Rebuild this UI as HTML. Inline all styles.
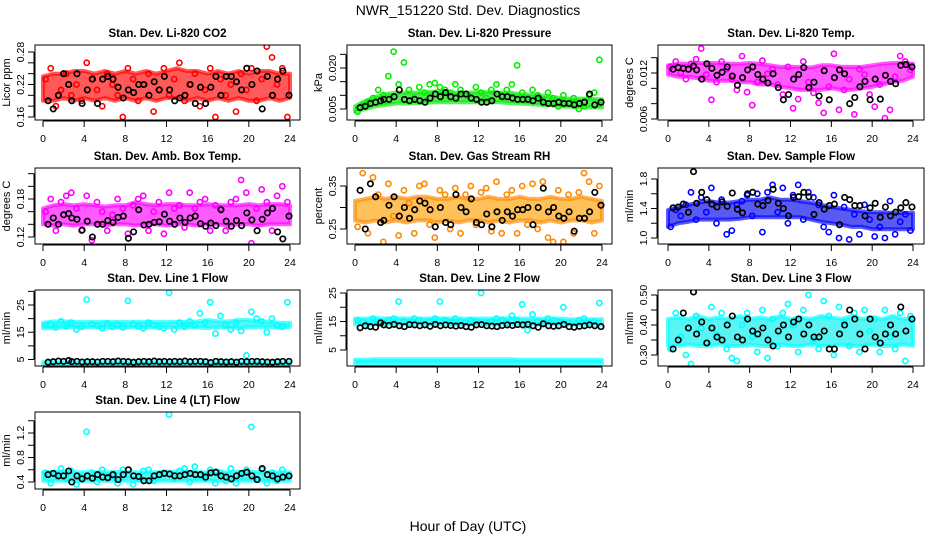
<!DOCTYPE html>
<html><head><meta charset="utf-8">
<style>
html,body{margin:0;padding:0;background:#fff;}
svg{display:block;font-family:"Liberation Sans",Arial,sans-serif;}
</style></head>
<body>
<svg id="chart" width="936" height="540" viewBox="0 0 936 540" xmlns="http://www.w3.org/2000/svg">
<text x="468" y="15" text-anchor="middle" font-size="14">NWR_151220 Std. Dev. Diagnostics</text>
<text x="468" y="531" text-anchor="middle" font-size="14">Hour of Day (UTC)</text>
</svg>
<script>
const hours48 = [0.25,0.75,1.25,1.75,2.25,2.75,3.25,3.75,4.25,4.75,5.25,5.75,6.25,6.75,7.25,7.75,8.25,8.75,9.25,9.75,10.25,10.75,11.25,11.75,12.25,12.75,13.25,13.75,14.25,14.75,15.25,15.75,16.25,16.75,17.25,17.75,18.25,18.75,19.25,19.75,20.25,20.75,21.25,21.75,22.25,22.75,23.25,23.75];
const hoursBlack = [0.5,1,1.5,2,2.5,2.8,3.3,3.8,4.3,4.8,5.3,5.8,6.3,6.8,7.3,7.8,8.3,8.8,9.3,9.8,10.3,10.8,11.3,11.8,12.3,12.8,13.3,13.8,14.3,14.8,15.3,15.8,16.3,16.8,17.3,17.8,18.3,18.8,19.3,19.8,20.3,20.8,21.3,21.8,22.3,22.8,23.3,23.9];
const hours25 = [0,1,2,3,4,5,6,7,8,9,10,11,12,13,14,15,16,17,18,19,20,21,22,23,24];
const xTicks = [0,4,8,12,16,20,24];

const co2Colored = [0.23,0.25,0.18,0.21,0.24,0.20,0.22,0.19,0.26,0.23,0.21,0.18,0.24,0.22,0.20,0.16,0.25,0.23,0.19,0.22,0.24,0.17,0.21,0.25,0.20,0.23,0.26,0.19,0.22,0.24,0.18,0.21,0.25,0.16,0.23,0.20,0.22,0.17,0.24,0.21,0.25,0.19,0.23,0.29,0.27,0.22,0.25,0.16];
const co2Black = [0.19,0.175,0.20,0.24,0.22,0.19,0.24,0.185,0.21,0.23,0.185,0.23,0.235,0.23,0.215,0.195,0.21,0.205,0.22,0.22,0.20,0.225,0.21,0.235,0.21,0.19,0.195,0.20,0.22,0.185,0.215,0.185,0.215,0.235,0.20,0.235,0.235,0.225,0.21,0.25,0.22,0.245,0.175,0.235,0.20,0.23,0.245,0.20];
const co2BandLo = [0.19,0.19,0.195,0.19,0.195,0.19,0.195,0.19,0.195,0.19,0.195,0.19,0.195,0.195,0.19,0.195,0.19,0.195,0.19,0.195,0.19,0.19,0.195,0.19,0.195];
const co2BandHi = [0.235,0.24,0.24,0.245,0.245,0.24,0.245,0.24,0.245,0.24,0.245,0.24,0.245,0.25,0.245,0.245,0.24,0.245,0.24,0.245,0.24,0.245,0.245,0.24,0.24];

const presColored = [0.004,0.0065,0.0075,0.009,0.012,0.010,0.017,0.026,0.014,0.022,0.012,0.009,0.013,0.011,0.014,0.0145,0.013,0.012,0.011,0.014,0.012,0.010,0.009,0.013,0.011,0.009,0.012,0.014,0.010,0.012,0.014,0.021,0.011,0.009,0.012,0.010,0.008,0.011,0.009,0.006,0.010,0.007,0.009,0.005,0.006,0.010,0.011,0.023];
const presBlack = [0.0055,0.006,0.007,0.0075,0.008,0.0085,0.0085,0.0095,0.012,0.0085,0.008,0.0085,0.008,0.0075,0.009,0.0105,0.0095,0.011,0.0095,0.009,0.0105,0.0105,0.009,0.0085,0.0075,0.0075,0.008,0.0105,0.0095,0.0095,0.009,0.0085,0.0085,0.0085,0.008,0.009,0.0075,0.007,0.007,0.0075,0.007,0.007,0.0065,0.007,0.0075,0.0105,0.0065,0.0075];
const presBandLo = [0.004,0.005,0.006,0.0065,0.007,0.007,0.0072,0.0073,0.0075,0.0075,0.0075,0.0075,0.0075,0.0075,0.0075,0.0072,0.007,0.0068,0.0065,0.0063,0.006,0.0058,0.0057,0.0056,0.0055];
const presBandHi = [0.006,0.008,0.0095,0.0105,0.011,0.011,0.011,0.0112,0.0115,0.0112,0.011,0.011,0.0112,0.0112,0.011,0.011,0.0105,0.0102,0.01,0.0095,0.009,0.0088,0.0088,0.0088,0.0085];

const tempColored = [0.0128,0.0135,0.012,0.0112,0.0132,0.0138,0.0152,0.0118,0.0085,0.0108,0.0135,0.0125,0.0112,0.0098,0.0142,0.0095,0.0078,0.0108,0.0136,0.0119,0.0125,0.0105,0.0092,0.0128,0.0074,0.0086,0.0135,0.0108,0.0094,0.0081,0.0068,0.0102,0.0145,0.0072,0.0098,0.0112,0.0066,0.0125,0.0118,0.0092,0.0076,0.0105,0.0061,0.0072,0.0115,0.0142,0.0135,0.0124];
const tempBlack = [0.0125,0.0127,0.0126,0.0125,0.0129,0.0124,0.0112,0.0132,0.0126,0.0117,0.0121,0.0128,0.0116,0.0104,0.0114,0.0124,0.0128,0.0118,0.0112,0.0107,0.0119,0.0101,0.0085,0.0092,0.0112,0.0118,0.0127,0.0101,0.0108,0.0090,0.0123,0.0085,0.0114,0.0124,0.0119,0.0080,0.0088,0.0102,0.0109,0.0085,0.0112,0.0086,0.0117,0.0109,0.0106,0.0130,0.0131,0.0128];
const tempBandLo = [0.0118,0.0115,0.0115,0.0113,0.011,0.011,0.011,0.0108,0.0108,0.0105,0.0105,0.0102,0.010,0.0098,0.0098,0.0098,0.010,0.0098,0.0098,0.010,0.0102,0.0105,0.0108,0.011,0.0115];
const tempBandHi = [0.013,0.0132,0.0132,0.0133,0.0133,0.0133,0.0132,0.0132,0.0133,0.0132,0.013,0.0128,0.0128,0.0128,0.0127,0.013,0.013,0.0128,0.0128,0.0128,0.013,0.0132,0.0133,0.0133,0.0132];

const ambColored = [0.16,0.18,0.13,0.175,0.185,0.19,0.165,0.13,0.185,0.115,0.175,0.16,0.13,0.155,0.18,0.165,0.125,0.17,0.18,0.185,0.13,0.16,0.175,0.125,0.19,0.165,0.17,0.135,0.19,0.165,0.175,0.18,0.13,0.17,0.165,0.13,0.175,0.18,0.21,0.19,0.11,0.165,0.195,0.175,0.13,0.185,0.2,0.175];
const ambBlack = [0.14,0.15,0.14,0.155,0.157,0.15,0.148,0.131,0.145,0.12,0.14,0.14,0.146,0.143,0.151,0.153,0.118,0.128,0.163,0.139,0.14,0.143,0.144,0.156,0.145,0.14,0.15,0.143,0.15,0.153,0.141,0.137,0.142,0.138,0.163,0.145,0.137,0.146,0.138,0.158,0.147,0.13,0.148,0.158,0.165,0.128,0.117,0.153];
const ambBandLo = [0.14,0.138,0.14,0.138,0.14,0.14,0.138,0.14,0.14,0.138,0.14,0.14,0.138,0.14,0.14,0.138,0.14,0.14,0.138,0.14,0.14,0.138,0.14,0.14,0.14];
const ambBandHi = [0.165,0.17,0.172,0.17,0.172,0.17,0.168,0.17,0.17,0.175,0.172,0.17,0.172,0.172,0.17,0.17,0.172,0.17,0.17,0.17,0.172,0.17,0.172,0.172,0.17];

const rhColored = [0.255,0.38,0.24,0.37,0.33,0.22,0.355,0.28,0.235,0.34,0.31,0.24,0.35,0.355,0.26,0.23,0.34,0.33,0.25,0.345,0.24,0.33,0.35,0.26,0.335,0.345,0.245,0.36,0.24,0.33,0.34,0.24,0.35,0.26,0.355,0.25,0.36,0.23,0.22,0.34,0.22,0.33,0.24,0.335,0.38,0.36,0.24,0.35];
const rhBlack = [0.34,0.25,0.355,0.325,0.265,0.27,0.305,0.325,0.28,0.30,0.275,0.295,0.315,0.31,0.295,0.255,0.30,0.265,0.26,0.33,0.30,0.29,0.32,0.265,0.26,0.285,0.255,0.29,0.27,0.29,0.28,0.295,0.295,0.30,0.26,0.30,0.345,0.29,0.30,0.28,0.275,0.29,0.245,0.275,0.275,0.29,0.335,0.305];
const rhBandLo = [0.27,0.265,0.27,0.265,0.27,0.265,0.27,0.27,0.265,0.27,0.265,0.27,0.27,0.265,0.27,0.265,0.27,0.27,0.265,0.27,0.265,0.27,0.27,0.265,0.27];
const rhBandHi = [0.315,0.32,0.325,0.32,0.325,0.32,0.325,0.325,0.32,0.32,0.325,0.32,0.32,0.325,0.32,0.32,0.325,0.32,0.32,0.325,0.32,0.32,0.325,0.32,0.315];

const flowColored = [1.15,1.38,1.3,1.45,1.62,1.25,1.55,1.35,1.68,1.2,1.52,1.05,1.1,1.45,1.5,1.58,1.3,1.6,1.08,1.62,1.72,1.35,1.68,1.2,1.58,1.72,1.25,1.62,1.55,1.45,1.15,1.08,1.58,1.0,1.42,0.98,1.32,1.05,1.45,1.25,1.02,1.15,1.0,1.5,1.05,1.22,1.32,1.1];
const flowBlack = [1.41,1.42,1.46,1.35,1.9,1.47,1.62,1.52,1.46,1.42,1.49,1.43,1.61,1.39,1.34,1.6,1.62,1.46,1.44,1.51,1.66,1.47,1.4,1.3,1.55,1.56,1.62,1.56,1.32,1.48,1.39,1.44,1.46,1.18,1.55,1.52,1.44,1.44,1.3,1.41,1.47,1.28,1.42,1.3,1.35,1.41,1.48,1.42];
const flowBandLo = [1.15,1.2,1.22,1.25,1.25,1.25,1.25,1.26,1.28,1.28,1.28,1.28,1.28,1.28,1.25,1.22,1.2,1.18,1.15,1.15,1.12,1.12,1.12,1.12,1.12];
const flowBandHi = [1.38,1.42,1.45,1.48,1.5,1.48,1.48,1.5,1.52,1.52,1.55,1.52,1.52,1.5,1.48,1.45,1.42,1.4,1.38,1.36,1.35,1.35,1.34,1.34,1.34];

const l1Colored = [17.5,18,16.8,19,17.2,18.5,16,17,27,18,17.5,16.5,18.2,17,17.8,16.8,26.5,18,17.2,16.5,18.5,17.5,17,16.5,29.5,16,18.5,17,19,17.5,22,18.5,26,14.5,21,17.5,16,18.5,15.5,6.5,22.5,20,19,15,20,17.5,17,26];
const l1Black = [4,4.2,4.4,4.3,4.6,4.2,4.3,4.1,4.2,4.2,4.1,4.3,4.3,4.2,4.4,4.3,4.2,4.0,4.2,4.3,4.2,4.4,4.2,4.3,4.2,4.3,4.2,4.4,4.2,4.3,4.3,4.2,3.9,4.3,4.2,4.1,4.2,4.0,4.3,4.2,4.3,4.3,4.2,4.1,4.0,4.2,4.3,4.3];
const l1BandLo = [16.5,16.5,16.8,16.8,16.8,16.8,16.8,16.8,16.8,16.8,16.8,16.8,16.8,16.8,16.8,16.8,16.5,16.8,16.8,16.5,16.8,16.8,16.8,16.8,16.8];
const l1BandHi = [18.5,19,19,18.8,18.8,18.8,18.8,18.8,18.8,18.8,18.8,18.8,18.8,18.8,18.8,19,19.5,19,19,19.5,19.5,19,18.8,18.5,18.5];
const l1LowLo = [3.0,3.0,3.0,3.0,3.0,3.0,3.0,3.0,3.0,3.0,3.0,3.0,3.0,3.0,3.0,3.0,3.0,3.0,3.0,3.0,3.0,3.0,3.0,3.0,3.0];
const l1LowHi = [4.0,4.0,4.0,4.0,4.0,4.0,4.0,4.0,4.0,4.0,4.0,4.0,4.0,4.0,4.0,4.0,4.0,4.0,4.0,4.0,4.0,4.0,4.0,4.0,4.0];

const l2Colored = [15.5,15,14,16,15,14.5,15.5,16,22,15,14.5,16,15.5,14,15,16,22,15.5,14.5,16,15,14.5,15.5,15,25,14.5,15,16,15.5,14.5,17,15.5,21,12,17.5,15,14.5,16,15.5,15,20,14.5,13,15.5,16,14.5,15,21.5];
const l2Black = [12.8,13.5,13.2,13,14.5,13.8,13.6,14,13.5,13.2,13.9,13.8,13.5,13.8,13.3,14,13.5,13.8,13.6,13.4,13.6,13.2,13,13.8,13.9,13.5,13.4,13.2,13.6,13.8,13.6,13.9,13.8,14,13.5,13,14.2,13.5,13.3,13.5,14,13.2,13,13.3,13.5,13.8,13.5,13.2];
const l2BandLo = [14,14,14,14,14,14,14,14,14,14,14,14,14,14,14,14,14,14,14,14,14,14,13.8,13.8,13.8];
const l2BandHi = [16,16,16.2,16,16.2,16,16,16,16.2,16,16,16,16,16,16,16.2,16,16,16,16,16,15.8,15.8,15.8,15.8];
const l2LowLo = [0.3,0.3,0.3,0.3,0.3,0.3,0.3,0.3,0.3,0.3,0.3,0.3,0.3,0.3,0.3,0.3,0.3,0.3,0.3,0.3,0.3,0.3,0.3,0.3,0.3];
const l2LowHi = [1.6,1.6,1.8,1.8,1.8,1.8,1.8,1.8,1.8,1.8,1.8,1.8,1.8,1.8,1.8,1.8,1.6,1.6,1.6,1.6,1.6,1.6,1.6,1.6,1.6];

const l3Colored = [0.32,0.44,0.36,0.3,0.27,0.43,0.39,0.34,0.46,0.37,0.44,0.32,0.29,0.28,0.4,0.44,0.36,0.31,0.45,0.29,0.42,0.33,0.44,0.47,0.4,0.31,0.45,0.5,0.35,0.32,0.48,0.43,0.3,0.46,0.41,0.33,0.44,0.31,0.45,0.38,0.42,0.31,0.45,0.36,0.32,0.44,0.28,0.43];
const l3Black = [0.32,0.35,0.44,0.39,0.51,0.37,0.41,0.34,0.39,0.36,0.35,0.40,0.43,0.36,0.35,0.42,0.38,0.37,0.39,0.35,0.33,0.38,0.40,0.36,0.41,0.42,0.37,0.40,0.36,0.36,0.38,0.32,0.32,0.37,0.40,0.45,0.42,0.37,0.32,0.42,0.36,0.34,0.37,0.40,0.37,0.46,0.38,0.42];
const l3BandLo = [0.33,0.33,0.335,0.33,0.33,0.335,0.33,0.33,0.335,0.33,0.33,0.335,0.33,0.33,0.335,0.33,0.33,0.335,0.33,0.33,0.335,0.33,0.33,0.335,0.33];
const l3BandHi = [0.42,0.425,0.42,0.43,0.42,0.425,0.42,0.43,0.42,0.425,0.42,0.43,0.42,0.425,0.42,0.43,0.425,0.42,0.43,0.42,0.425,0.42,0.43,0.42,0.42];

const l4Colored = [0.55,0.38,0.5,0.62,0.45,0.58,0.36,0.48,1.22,0.55,0.4,0.6,0.45,0.5,0.38,0.6,0.52,0.36,0.45,0.58,0.6,0.42,0.5,0.55,1.5,0.45,0.58,0.62,0.4,0.65,0.5,0.45,0.6,0.38,0.55,0.42,0.62,0.38,0.5,0.6,1.3,0.45,0.6,0.38,0.55,0.42,0.6,0.5];
const l4Black = [0.52,0.54,0.5,0.5,0.58,0.4,0.5,0.45,0.5,0.46,0.52,0.48,0.47,0.52,0.44,0.52,0.6,0.5,0.49,0.42,0.42,0.5,0.52,0.54,0.53,0.5,0.5,0.52,0.54,0.52,0.52,0.48,0.55,0.56,0.5,0.48,0.45,0.5,0.54,0.56,0.5,0.44,0.62,0.52,0.5,0.45,0.48,0.5];
const l4BandLo = [0.42,0.42,0.42,0.42,0.42,0.42,0.42,0.42,0.42,0.42,0.42,0.42,0.42,0.42,0.42,0.42,0.42,0.42,0.42,0.42,0.42,0.42,0.42,0.42,0.42];
const l4BandHi = [0.56,0.57,0.57,0.56,0.56,0.56,0.56,0.57,0.56,0.56,0.56,0.56,0.57,0.57,0.57,0.56,0.56,0.56,0.56,0.57,0.57,0.56,0.56,0.56,0.56];

const co2YTicks = [0.16,0.18,0.20,0.22,0.24,0.26,0.28];
const co2YLabels = [0.16,0.22,0.28];
const presYTicks = [0.005,0.010,0.015,0.020,0.025];
const presYLabels = [0.005,0.020];
const tempYTicks = [0.006,0.008,0.010,0.012,0.014];
const tempYLabels = [0.006,0.012];
const ambYTicks = [0.12,0.14,0.16,0.18,0.20,0.22];
const ambYLabels = [0.12,0.18];
const rhYTicks = [0.25,0.30,0.35];
const rhYLabels = [0.25,0.35];
const flowYTicks = [1.0,1.2,1.4,1.6,1.8];
const flowYLabels = [1.0,1.4,1.8];
const l1YTicks = [5,10,15,20,25,30];
const l1YLabels = [5,15,25];
const l2YTicks = [5,10,15,20,25];
const l2YLabels = [5,15,25];
const l3YTicks = [0.30,0.35,0.40,0.45,0.50];
const l3YLabels = [0.30,0.40,0.50];
const l4YTicks = [0.4,0.6,0.8,1.0,1.2,1.4];
const l4YLabels = [0.4,0.8,1.2];

const NS = "http://www.w3.org/2000/svg";
const svg = document.getElementById('chart');
const cols = [{L:35,R:300,x0:43,x24:290},{L:347,R:612,x0:355,x24:602},{L:658,R:924,x0:668,x24:913}];
const rows = [{T:45,B:120},{T:168,B:244},{T:290,B:366},{T:412,B:489}];

function mk(tag, attrs, parent){
  const e = document.createElementNS(NS, tag);
  for (const k in attrs) e.setAttribute(k, attrs[k]);
  (parent||svg).appendChild(e);
  return e;
}

const panels = [
 {id:'co2',title:'Stan. Dev. Li-820 CO2',ylab:'Licor ppm',c:0,r:0,cal:[0.16,117,0.28,52],col:'#ff0000',band:'#ff0000',dec:2,C:co2Colored,K:co2Black,lo:co2BandLo,hi:co2BandHi,yt:co2YTicks,yl:co2YLabels},
 {id:'pressure',title:'Stan. Dev. Li-820 Pressure',ylab:'kPa',c:1,r:0,cal:[0.005,109,0.020,68],col:'#00ee00',band:'#00dd00',dec:3,C:presColored,K:presBlack,lo:presBandLo,hi:presBandHi,yt:presYTicks,yl:presYLabels},
 {id:'li820-temp',title:'Stan. Dev. Li-820 Temp.',ylab:'degrees C',c:2,r:0,cal:[0.006,119,0.012,73],col:'#ff00ff',band:'#ff00ff',dec:3,C:tempColored,K:tempBlack,lo:tempBandLo,hi:tempBandHi,yt:tempYTicks,yl:tempYLabels},
 {id:'amb-box-temp',title:'Stan. Dev. Amb. Box Temp.',ylab:'degrees C',c:0,r:1,cal:[0.12,237,0.18,199],col:'#ff00ff',band:'#ff00ff',dec:2,C:ambColored,K:ambBlack,lo:ambBandLo,hi:ambBandHi,yt:ambYTicks,yl:ambYLabels},
 {id:'gas-stream-rh',title:'Stan. Dev. Gas Stream RH',ylab:'percent',c:1,r:1,cal:[0.25,229,0.35,186],col:'#ff8800',band:'#ffa000',dec:2,C:rhColored,K:rhBlack,lo:rhBandLo,hi:rhBandHi,yt:rhYTicks,yl:rhYLabels},
 {id:'sample-flow',title:'Stan. Dev. Sample Flow',ylab:'ml/min',c:2,r:1,cal:[1.0,238,1.8,179],col:'#0000ff',band:'#0000ee',dec:1,C:flowColored,K:flowBlack,lo:flowBandLo,hi:flowBandHi,yt:flowYTicks,yl:flowYLabels},
 {id:'line1-flow',title:'Stan. Dev. Line 1 Flow',ylab:'ml/min',c:0,r:2,cal:[5,359.5,25,305],col:'#00ffff',band:'#00f0f0',dec:0,C:l1Colored,K:l1Black,lo:l1BandLo,hi:l1BandHi,lo2:l1LowLo,hi2:l1LowHi,yt:l1YTicks,yl:l1YLabels},
 {id:'line2-flow',title:'Stan. Dev. Line 2 Flow',ylab:'ml/min',c:1,r:2,cal:[5,350,25,293],col:'#00ffff',band:'#00f0f0',dec:0,C:l2Colored,K:l2Black,lo:l2BandLo,hi:l2BandHi,lo2:l2LowLo,hi2:l2LowHi,yt:l2YTicks,yl:l2YLabels},
 {id:'line3-flow',title:'Stan. Dev. Line 3 Flow',ylab:'ml/min',c:2,r:2,cal:[0.30,355,0.50,295],col:'#00ffff',band:'#00f0f0',dec:2,C:l3Colored,K:l3Black,lo:l3BandLo,hi:l3BandHi,yt:l3YTicks,yl:l3YLabels},
 {id:'line4-flow',title:'Stan. Dev. Line 4 (LT) Flow',ylab:'ml/min',c:0,r:3,cal:[0.4,482,1.2,433],col:'#00ffff',band:'#00f0f0',dec:1,C:l4Colored,K:l4Black,lo:l4BandLo,hi:l4BandHi,yt:l4YTicks,yl:l4YLabels}
];

panels.forEach(p => {
  const cc = cols[p.c], rr = rows[p.r];
  const xs = h => cc.x0 + (h/24)*(cc.x24-cc.x0);
  const ys = v => p.cal[1] + (v-p.cal[0])*(p.cal[3]-p.cal[1])/(p.cal[2]-p.cal[0]);
  const g = mk('g', {});
  
  
  const clipId = 'clip-' + p.id;
  const cp = mk('clipPath', {id:clipId}, g);
  mk('rect', {x:cc.L, y:rr.T, width:cc.R-cc.L, height:rr.B-rr.T}, cp);

  const t = mk('text', {x:(cc.L+cc.R)/2, y:rr.T-8, 'text-anchor':'middle', 'font-size':'11.5', 'font-weight':'bold'}, g);
  
  
  t.textContent = p.title;

  const yl = mk('text', {transform:`translate(${cc.L-25},${(rr.T+rr.B)/2}) rotate(-90)`, 'text-anchor':'middle', 'font-size':'11'}, g);
  
  
  yl.textContent = p.ylab;

  const plot = mk('g', {'clip-path':`url(#${clipId})`}, g);
  
  
  const bands = [[p.lo,p.hi]];
  if (p.lo2) bands.push([p.lo2,p.hi2]);
  bands.forEach((b, bi) => {
    let pts = hours25.map((h,i)=>`${xs(h).toFixed(1)},${ys(b[1][i]).toFixed(1)}`);
    pts = pts.concat(hours25.slice().reverse().map((h,j)=>{const i=hours25.length-1-j;return `${xs(h).toFixed(1)},${ys(b[0][i]).toFixed(1)}`;}));
    const poly = mk('polygon', {points:pts.join(' '), fill:p.band, 'fill-opacity':'0.65', stroke:p.col, 'stroke-opacity':'0.65', 'stroke-width':'4', 'stroke-linejoin':'round'}, plot);
    
    
  });
  p.C.forEach((v,i) => {
    const c = mk('circle', {cx:xs(hours48[i]).toFixed(1), cy:ys(v).toFixed(1), r:'2.6', fill:'none', stroke:p.col, 'stroke-width':'1.6'}, plot);
    
    
  });
  p.K.forEach((v,i) => {
    const c = mk('circle', {cx:xs(hoursBlack[i]).toFixed(1), cy:ys(v).toFixed(1), r:'2.7', fill:'none', stroke:'#000', 'stroke-width':'1.7'}, plot);
    
    
  });

  const box = mk('rect', {x:cc.L, y:rr.T, width:cc.R-cc.L, height:rr.B-rr.T, fill:'none', stroke:'#000', 'stroke-width':'1'}, g);
  
  

  const ya = mk('g', {}, g);
  
  
  const yT = p.yt.map(ys).filter(y => y >= rr.T-0.5 && y <= rr.B+0.5);
  if (yT.length) mk('line', {x1:cc.L-1, x2:cc.L-1, y1:Math.min(...yT), y2:Math.max(...yT), stroke:'#000'}, ya);
  p.yt.forEach(v => {
    const y = ys(v);
    if (y < rr.T-0.5 || y > rr.B+0.5) return;
    mk('line', {x1:cc.L-7, x2:cc.L-1, y1:y, y2:y, stroke:'#000'}, ya);
  });
  p.yl.forEach(v => {
    const y = ys(v);
    const tx = mk('text', {transform:`translate(${cc.L-11},${y.toFixed(1)}) rotate(-90)`, 'text-anchor':'middle', 'font-size':'10.5'}, ya);
    
    
    tx.textContent = v.toFixed(p.dec);
  });

  const xa = mk('g', {}, g);
  
  
  mk('line', {x1:xs(xTicks[0]), x2:xs(xTicks[xTicks.length-1]), y1:rr.B+1, y2:rr.B+1, stroke:'#000'}, xa);
  xTicks.forEach(h => {
    const x = xs(h);
    mk('line', {x1:x, x2:x, y1:rr.B+1, y2:rr.B+7, stroke:'#000'}, xa);
    const tx = mk('text', {x:x, y:rr.B+22, 'text-anchor':'middle', 'font-size':'10.5'}, xa);
    
    
    tx.textContent = h;
  });
});
</script>
</body></html>
